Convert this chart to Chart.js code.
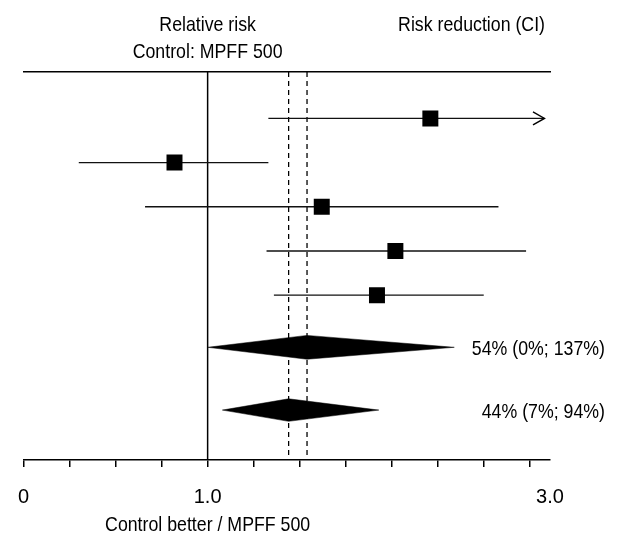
<!DOCTYPE html>
<html><head><meta charset="utf-8">
<script src="https://cdn.jsdelivr.net/npm/chart.js@4"></script>
<style>html,body{margin:0;padding:0;background:#fff}#wrap{width:617px;height:536px}</style>
</head><body><div id="wrap"><canvas id="c" width="617" height="536"></canvas></div>
<script>
// ---------- data ----------
const studyEstimate = [2.21, 0.82, 1.62, 2.02, 1.92];
const studyLower    = [1.33, 0.30, 0.66, 1.32, 1.36];
const studyUpper    = [2.83, 1.33, 2.58, 2.73, 2.50];
const studyArrow    = [true, false, false, false, false];
const pooledEstimate = [1.54, 1.44];
const pooledLower    = [1.00, 1.08];
const pooledUpper    = [2.34, 1.93];
const pooledLabels   = ['54% (0%; 137%)', '44% (7%; 94%)'];
const referenceValue = 1.0;
const xTickValues = [0, 0.25, 0.5, 0.75, 1.0, 1.25, 1.5, 1.75, 2.0, 2.25, 2.5, 2.75, 2.86];
const xTickLabels = ['0', '', '', '', '1.0', '', '', '', '', '', '', '', '3.0'];
const headerLeft  = ['Relative risk', 'Control: MPFF 500'];
const headerRight = 'Risk reduction (CI)';
const xTitle = 'Control better / MPFF 500';

// ---------- layout ----------
const FONT = '"Liberation Sans", Arial, sans-serif';
const FS = 21;
const NARROW = 0.845;
const X_MIN = 0, X_MAX = 2.86;
const Y_MIN = -0.05, Y_MAX = 8.73;
const studyRows = [1, 2, 3, 4, 5];
const pooledRows = [6.18, 7.60];
const pooledHalf = [0.27, 0.255];

Chart.defaults.font.family = FONT;
Chart.defaults.font.size = FS;
Chart.defaults.color = '#000';

const datasets = [];
// squares
datasets.push({
  type: 'scatter',
  data: studyEstimate.map((v, i) => ({x: v, y: studyRows[i]})),
  pointStyle: 'rect', pointRadius: 11.3, pointBorderWidth: 0,
  backgroundColor: '#000', borderColor: '#000', showLine: false
});
// CI lines
studyEstimate.forEach((v, i) => {
  datasets.push({
    type: 'scatter', showLine: true,
    data: [{x: studyLower[i], y: studyRows[i]}, {x: studyUpper[i], y: studyRows[i]}],
    borderColor: '#111', borderWidth: 1.4, pointRadius: 0
  });
});
// diamonds
pooledEstimate.forEach((v, i) => {
  const r = pooledRows[i], h = pooledHalf[i];
  datasets.push({
    type: 'scatter', showLine: true, fill: 'shape',
    data: [{x: pooledLower[i], y: r}, {x: v, y: r - h}, {x: pooledUpper[i], y: r}, {x: v, y: r + h}, {x: pooledLower[i], y: r}],
    borderColor: '#000', backgroundColor: '#000', borderWidth: 0.5, pointRadius: 0
  });
});
// dashed lines at pooled estimates
pooledEstimate.forEach(v => {
  datasets.push({
    type: 'scatter', showLine: true,
    data: [{x: v, y: Y_MIN}, {x: v, y: Y_MAX}],
    borderColor: '#000', borderWidth: 1.3, borderDash: [5, 4], pointRadius: 0
  });
});
// reference line
datasets.push({
  type: 'scatter', showLine: true,
  data: [{x: referenceValue, y: Y_MIN}, {x: referenceValue, y: Y_MAX}],
  borderColor: '#000', borderWidth: 1.5, pointRadius: 0
});

function narrowText(ctx, t, x, y, align) {
  ctx.save();
  ctx.translate(x, y);
  ctx.scale(NARROW, 1);
  ctx.textAlign = align;
  ctx.fillText(t, 0, 0);
  ctx.restore();
}

const textPlugin = {
  id: 'texts',
  afterDraw(chart) {
    const ctx = chart.ctx;
    const xs = chart.scales.x, ys = chart.scales.y;
    ctx.save();
    ctx.fillStyle = '#000';
    ctx.font = FS + 'px ' + FONT;
    ctx.textBaseline = 'alphabetic';
    // arrowheads
    ctx.strokeStyle = '#000'; ctx.lineWidth = 1.4;
    studyArrow.forEach((a, i) => {
      if (!a) return;
      const px = xs.getPixelForValue(studyUpper[i]), py = ys.getPixelForValue(studyRows[i]);
      ctx.beginPath();
      ctx.moveTo(px - 11.5, py - 6.5); ctx.lineTo(px, py); ctx.lineTo(px - 11.5, py + 6.5);
      ctx.stroke();
    });
    const cx = xs.getPixelForValue(referenceValue);
    narrowText(ctx, headerLeft[0], cx, 30.5, 'center');
    narrowText(ctx, headerLeft[1], cx, 58.3, 'center');
    narrowText(ctx, xTitle, cx, 530.5, 'center');
    narrowText(ctx, headerRight, 545, 30.5, 'right');
    pooledLabels.forEach((t, i) => {
      narrowText(ctx, t, 605, ys.getPixelForValue(pooledRows[i]) + 7.5, 'right');
    });
    ctx.restore();
  }
};

new Chart(document.getElementById('c'), {
  type: 'scatter',
  data: {datasets},
  plugins: [textPlugin],
  options: {
    responsive: false, animation: false,
    layout: {padding: {left: 20.7, right: 67, top: 72, bottom: 10}},
    plugins: {legend: {display: false}, tooltip: {enabled: false}, title: {display: false}},
    scales: {
      x: {
        type: 'linear', position: 'bottom', min: X_MIN, max: X_MAX,
        afterBuildTicks: s => { s.ticks = xTickValues.map(v => ({value: v})); },
        afterFit: s => { s.height = 66; },
        ticks: {autoSkip: false, maxRotation: 0, minRotation: 0, padding: 18,
          callback: (v, i) => xTickLabels[i], color: '#000', font: {size: 20}},
        grid: {drawOnChartArea: false, drawTicks: true, tickLength: 7, lineWidth: 1.5,
          tickColor: c => (c.index === xTickValues.length - 1 ? 'rgba(0,0,0,0)' : '#000')},
        border: {display: true, color: '#000', width: 1.5}
      },
      x2: {
        type: 'linear', position: 'top', min: X_MIN, max: X_MAX, display: true,
        ticks: {display: false}, grid: {display: false, drawTicks: false, drawOnChartArea: false},
        border: {display: true, color: '#000', width: 1.5}
      },
      y: {type: 'linear', display: false, reverse: true, min: Y_MIN, max: Y_MAX}
    }
  }
});
</script></body></html>
